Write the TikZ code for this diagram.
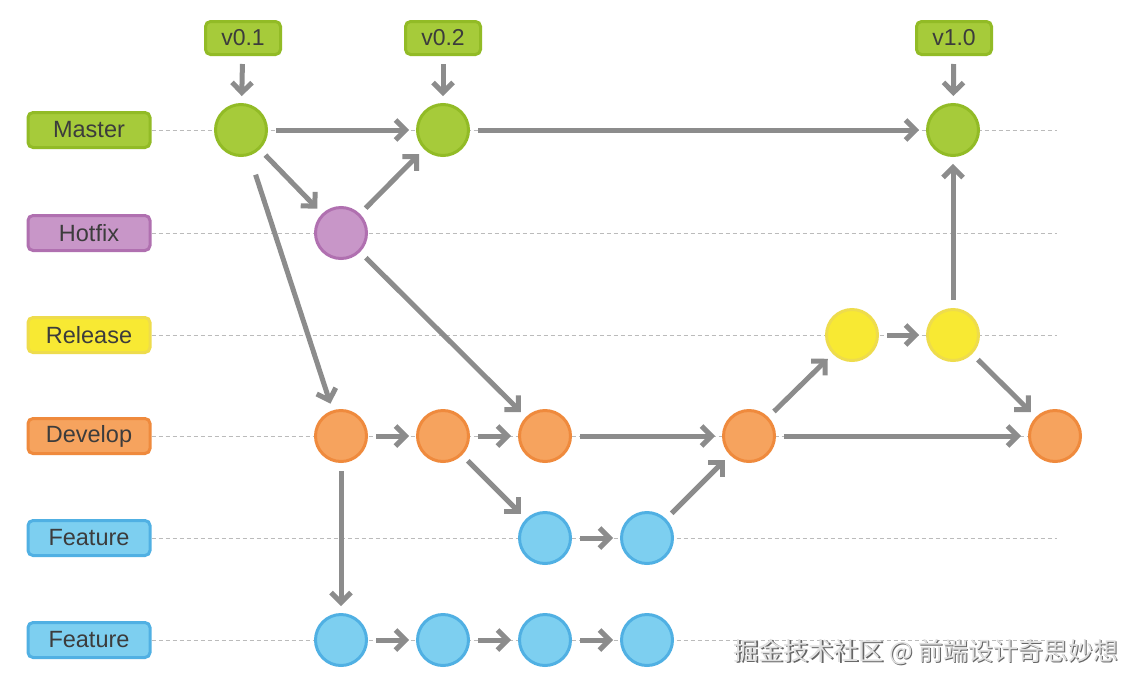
\documentclass[tikz,border=0pt]{standalone}
\usepackage{fontspec}
\setmainfont{Liberation Sans}
\newfontfamily\cjk{Noto Sans CJK SC}
\usetikzlibrary{arrows.meta}
\pgfdeclarearrow{
  name = Chev,
  parameters = {\the\pgfarrowlength,\the\pgfarrowlinewidth},
  setup code = {
    \pgfarrowssettipend{0.7\pgfarrowlinewidth}
    \pgfarrowssetlineend{-1pt}
    \pgfarrowssavethe\pgfarrowlength
    \pgfarrowssavethe\pgfarrowlinewidth
  },
  drawing code = {
    \pgfsetdash{}{0pt}
    \pgfsetlinewidth{\pgfarrowlinewidth}
    \pgfsetbuttcap
    \pgfsetmiterjoin
    \pgfpathmoveto{\pgfqpoint{-\pgfarrowlength}{\pgfarrowlength}}
    \pgfpathlineto{\pgfqpoint{0pt}{0pt}}
    \pgfpathlineto{\pgfqpoint{-\pgfarrowlength}{-\pgfarrowlength}}
    \pgfusepathqstroke
  },
  defaults = {length = 10pt}
}
\definecolor{gfill}{HTML}{A6CB3A}
\definecolor{gline}{HTML}{92BB26}
\definecolor{pfill}{HTML}{C896C8}
\definecolor{pline}{HTML}{B070B0}
\definecolor{yfill}{HTML}{F8E933}
\definecolor{yline}{HTML}{EEDC4C}
\definecolor{ofill}{HTML}{F6A35E}
\definecolor{oline}{HTML}{EF8A3D}
\definecolor{bfill}{HTML}{7DCFF0}
\definecolor{bline}{HTML}{50B0E3}
\definecolor{agrey}{HTML}{8C8C8C}
\definecolor{dgrey}{HTML}{BBBBBB}
\definecolor{ltext}{HTML}{3C3C3C}
\begin{document}
\begin{tikzpicture}[x=1pt,y=-1pt,
  commit/.style={circle, minimum size=51pt, inner sep=0pt, line width=3pt},
  branch/.style={rounded corners=5pt, minimum width=122pt, minimum height=35pt, inner sep=0pt, line width=3pt, text=ltext, font=\fontsize{23.5}{26}\selectfont},
  tagbox/.style={rounded corners=5pt, minimum width=75pt, minimum height=33pt, inner sep=0pt, line width=3pt, text=ltext, font=\fontsize{23}{26}\selectfont, fill=gfill, draw=gline},
  G/.style={commit, fill=gfill, draw=gline},
  P/.style={commit, fill=pfill, draw=pline},
  Y/.style={commit, fill=yfill, draw=yline},
  O/.style={commit, fill=ofill, draw=oline},
  B/.style={commit, fill=bfill, draw=bline},
  guide/.style={draw=dgrey, line width=1pt, dash pattern=on 4pt off 3pt},
  flow/.style={draw=agrey, line width=5pt, -{Chev[length=10pt, line width=5pt]}, shorten >=7pt, shorten <=8pt}
]
\useasboundingbox (0,0) rectangle (1140,686);
\fill[white] (0,0) rectangle (1140,686);

% branch labels
\node[branch, fill=gfill, draw=gline] (lm) at (89,130) {Master};
\node[branch, fill=pfill, draw=pline] (lh) at (89,233) {Hotfix};
\node[branch, fill=yfill, draw=yline] (lr) at (89,335) {Release};
\node[branch, fill=ofill, draw=oline] (ld) at (89,436) {Develop};
\node[branch, fill=bfill, draw=bline] (lf) at (89,538) {Feature};
\node[branch, fill=bfill, draw=bline] (lg) at (89,640) {Feature};

% guide lines
\coordinate (em) at (1057,130);
\coordinate (eh) at (1057,233);
\coordinate (er) at (1057,335);
\coordinate (ed) at (1057,436);
\coordinate (ef) at (1057,538);
\coordinate (eg) at (1057,640);
\draw[guide] (lm.east) -- (em);
\draw[guide] (lh.east) -- (eh);
\draw[guide] (lr.east) -- (er);
\draw[guide] (ld.east) -- (ed);
\draw[guide] (lf.east) -- (ef);
\draw[guide] (lg.east) -- (eg);

% commits
\node[G] (m1) at (241,130) {};
\node[G] (m2) at (443,130) {};
\node[G] (m3) at (953,130) {};
\node[P] (h1) at (341,233) {};
\node[Y] (r1) at (852,335) {};
\node[Y] (r2) at (953,335) {};
\node[O] (d1) at (341,436) {};
\node[O] (d2) at (443,436) {};
\node[O] (d3) at (545,436) {};
\node[O] (d4) at (749,436) {};
\node[O] (d5) at (1055,436) {};
\node[B] (f1) at (545,538) {};
\node[B] (f2) at (647,538) {};
\node[B] (g1) at (341,640) {};
\node[B] (g2) at (443,640) {};
\node[B] (g3) at (545,640) {};
\node[B] (g4) at (647,640) {};

% tags
\node[tagbox] (t1) at (243,38) {v0.1};
\node[tagbox] (t2) at (443,38) {v0.2};
\node[tagbox] (t3) at (954,38) {v1.0};
\draw[flow] (t1) -- (m1);
\draw[flow] (t2) -- (m2);
\draw[flow] (t3) -- (m3);

% flows
\draw[flow] (m1) -- (m2);
\draw[flow] (m2) -- (m3);
\draw[flow] (m1) -- (h1);
\draw[flow] (h1) -- (m2);
\draw[flow, shorten <=20pt] (m1) -- (d1);
\draw[flow] (h1) -- (d3);
\draw[flow] (d1) -- (d2);
\draw[flow] (d2) -- (d3);
\draw[flow] (d3) -- (d4);
\draw[flow] (d2) -- (f1);
\draw[flow] (f1) -- (f2);
\draw[flow] (f2) -- (d4);
\draw[flow] (d4) -- (r1);
\draw[flow] (r1) -- (r2);
\draw[flow] (r2) -- (m3);
\draw[flow] (r2) -- (d5);
\draw[flow] (d4) -- (d5);
\draw[flow] (d1) -- (g1);
\draw[flow] (g1) -- (g2);
\draw[flow] (g2) -- (g3);
\draw[flow] (g3) -- (g4);

% watermark
\node[text=black!60, font=\cjk\fontsize{25}{28}\selectfont] (wms) at (927.5,653.5) {掘金技术社区 @ 前端设计奇思妙想};
\node[text=black!12, font=\cjk\fontsize{25}{28}\selectfont] (wm) at (926,652) {掘金技术社区 @ 前端设计奇思妙想};
\end{tikzpicture}
\end{document}
